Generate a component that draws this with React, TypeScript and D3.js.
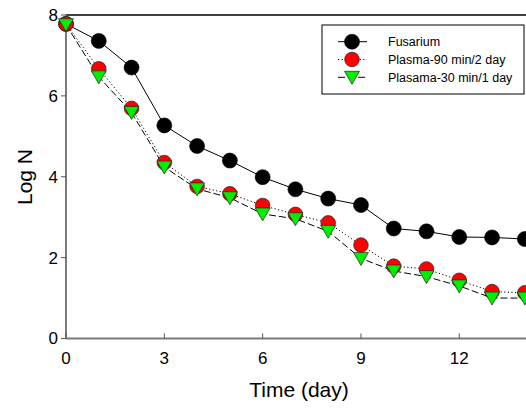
import React from "react";
import * as d3 from "d3";

const days = [0, 1, 2, 3, 4, 5, 6, 7, 8, 9, 10, 11, 12, 13, 14];
const fusarium = [7.78, 7.36, 6.70, 5.27, 4.76, 4.40, 3.99, 3.69, 3.46, 3.30, 2.72, 2.65, 2.51, 2.50, 2.46];
const plasma90 = [7.78, 6.67, 5.69, 4.35, 3.76, 3.58, 3.29, 3.07, 2.86, 2.31, 1.79, 1.72, 1.44, 1.16, 1.13];
const plasma30 = [7.76, 6.47, 5.59, 4.24, 3.70, 3.48, 3.08, 2.96, 2.65, 1.98, 1.67, 1.53, 1.30, 1.00, 1.00];
const seriesNames = ["Fusarium", "Plasma-90 min/2 day", "Plasama-30 min/1 day"];
const xTicks = [0, 3, 6, 9, 12];
const yTicks = [0, 2, 4, 6, 8];

const FONT = "'Liberation Sans', Arial, Helvetica, sans-serif";

function Marker({ kind, x, y }: { kind: number; x: number; y: number }) {
  if (kind === 0) return <circle cx={x} cy={y} r={7.5} fill="#000" stroke="#000" strokeWidth={0.6} />;
  if (kind === 1) return <circle cx={x} cy={y} r={7.3} fill="#ff0000" stroke="#222" strokeWidth={0.7} />;
  const pts = [
    [x - 7.5, y - 6],
    [x + 7.5, y - 6],
    [x, y + 7],
  ]
    .map((p) => p.join(","))
    .join(" ");
  return <polygon points={pts} fill="#00ee00" stroke="#222" strokeWidth={0.7} />;
}

export default function App() {
  const x = d3.scaleLinear().domain([0, 15]).range([66, 557.6]);
  const y = d3.scaleLinear().domain([0, 8]).range([338.5, 15]);
  const series = [fusarium, plasma90, plasma30];
  const dashes = [undefined, "1.2,2.4", "7,3"];
  const line = (vals: number[]) =>
    d3
      .line<number>()
      .x((_, i) => x(days[i]))
      .y((v) => y(v))(vals) as string;

  const legX = 322;
  const legY = 25;
  return (
    <svg
      width={526}
      height={409}
      style={{ position: "absolute", left: 0, top: 0, background: "#fff" }}
      fontFamily={FONT}
    >
      <rect x={0} y={0} width={526} height={409} fill="#fff" />
      {/* top frame */}
      <line x1={x(0)} x2={560} y1={y(8)} y2={y(8)} stroke="#000" strokeWidth={1.3} />
      {/* axes */}
      <line x1={x(0)} x2={x(0)} y1={y(0)} y2={y(8)} stroke="#7a7a7a" strokeWidth={2} />
      <line x1={x(0)} x2={560} y1={y(0)} y2={y(0)} stroke="#7a7a7a" strokeWidth={2} />
      {yTicks.map((t) => (
        <g key={"y" + t}>
          <line x1={x(0) - 5} x2={x(0)} y1={y(t)} y2={y(t)} stroke="#555" strokeWidth={1} />
          <text x={58} y={y(t)} dy="0.35em" textAnchor="end" fontSize={17}>
            {t}
          </text>
        </g>
      ))}
      {xTicks.map((t) => (
        <g key={"x" + t}>
          <line x1={x(t)} x2={x(t)} y1={y(0)} y2={y(0) - 5} stroke="#555" strokeWidth={1} />
          <text x={x(t)} y={364} textAnchor="middle" fontSize={17}>
            {t}
          </text>
        </g>
      ))}
      <text x={299} y={397} textAnchor="middle" fontSize={21}>
        Time (day)
      </text>
      <text transform={`translate(32,177) rotate(-90)`} textAnchor="middle" fontSize={21}>
        Log N
      </text>
      {series.map((s, k) => (
        <path key={"l" + k} d={line(s)} fill="none" stroke="#000" strokeWidth={1} strokeDasharray={dashes[k]} />
      ))}
      {series.map((s, k) => (
        <g key={"m" + k}>
          {s.map((v, i) => (
            <Marker key={i} kind={k} x={x(days[i])} y={y(v)} />
          ))}
        </g>
      ))}
      {/* legend */}
      <rect x={legX} y={legY} width={202} height={69} fill="#fff" stroke="#000" strokeWidth={1} />
      {seriesNames.map((n, k) => {
        const ry = 41.7 + k * 17.8;
        return (
          <g key={"lg" + k}>
            <line x1={338} x2={367} y1={ry} y2={ry} stroke="#000" strokeWidth={1} strokeDasharray={dashes[k]} />
            <Marker kind={k} x={352} y={ry} />
            <text x={388} y={ry} dy="0.35em" fontSize={12.5}>
              {n}
            </text>
          </g>
        );
      })}
    </svg>
  );
}
